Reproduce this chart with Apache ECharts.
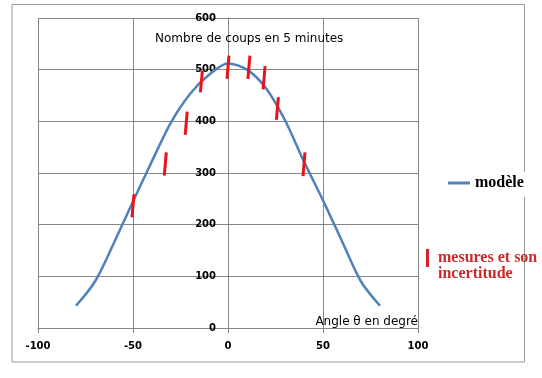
<!DOCTYPE html>
<html>
<head>
<meta charset="utf-8">
<script src="https://cdn.jsdelivr.net/npm/echarts@6/dist/echarts.min.js"></script>
<style>
html,body{margin:0;padding:0;background:#fff;}
#chart{width:542px;height:378px;}
</style>
</head>
<body>
<div id="chart"></div>
<script>
// ---- data ----
const modelAngles = [-80, -70, -60, -50, -40, -30, -20, -10, 0, 10, 20, 30, 40, 50, 60, 70, 80];
const modelValues = [43, 90, 165, 245, 323, 398, 453, 490, 512, 500, 464, 402, 322, 247, 168, 90, 43];
const measureAngles = [-50, -33, -22, -14, 0, 11, 19, 26, 40];
const measureLow  = [214, 295, 374, 456, 482, 482, 462, 403, 294];
const measureHigh = [259, 340, 419, 498, 527, 527, 507, 447, 340];
const xTickValues = [-100, -50, 0, 50, 100];
const yTickValues = [0, 100, 200, 300, 400, 500, 600];
const titleText = 'Nombre de coups en 5 minutes';
const xAxisName = 'Angle θ en degré';
const modelName = 'modèle';
const measureName = 'mesures et son\nincertitude';

const modelData = modelAngles.map((a, i) => [a, modelValues[i]]);
const measureData = measureAngles.map((a, i) => [a, measureLow[i], measureHigh[i]]);

const gridColor = '#868686';
const gridLeft = 38, gridWidth = 380;
const xMin = xTickValues[0], xMax = xTickValues[xTickValues.length - 1];
// shift the vertical axis so that it crosses the horizontal axis at x = 0
const yAxisShift = -gridWidth * (0 - xMin) / (xMax - xMin);

const chart = echarts.init(document.getElementById('chart'), null, {renderer: 'canvas'});
chart.setOption({
  backgroundColor: '#ffffff',
  animation: false,
  title: {
    text: titleText,
    left: 155, top: 33, padding: 0,
    textStyle: {fontFamily: 'DejaVu Sans', fontSize: 12, fontWeight: 'normal', color: '#000'}
  },
  graphic: [{
    type: 'rect', z: 0, silent: true,
    shape: {x: 12, y: 4.5, width: 512.5, height: 357.5},
    style: {fill: 'none', stroke: '#9a9a9a', lineWidth: 1}
  }],
  legend: [{
    data: [modelName],
    left: 443, top: 172,
    padding: [3, 6, 6, 5],
    backgroundColor: '#ffffff',
    itemWidth: 22, itemHeight: 14,
    icon: 'path://M0,6h22v3h-22z',
    textStyle: {fontFamily: 'Liberation Serif', fontWeight: 'bold', fontSize: 16, color: '#000'}
  }, {
    data: [{
      name: measureName,
      icon: 'path://M0,0h3v18h-3zM0,34h3v0h-3z',
      itemStyle: {color: '#d4242a'}
    }],
    left: 426, top: 249,
    padding: 0,
    itemWidth: 3, itemHeight: 34,
    textStyle: {fontFamily: 'Liberation Serif', fontWeight: 'bold', fontSize: 16, lineHeight: 16, color: '#cc2a2a', padding: [0, 0, 0, 4]}
  }],
  grid: {left: gridLeft, top: 18, width: gridWidth, height: 310, containLabel: false},
  xAxis: {
    type: 'value', min: xMin, max: xMax, interval: 50,
    name: xAxisName, nameLocation: 'end', nameGap: 0,
    nameTextStyle: {fontFamily: 'DejaVu Sans', fontSize: 12, color: '#000', align: 'right', verticalAlign: 'bottom'},
    axisLine: {show: true, onZero: false, lineStyle: {color: gridColor, width: 1}},
    axisTick: {show: true, length: 5, lineStyle: {color: gridColor}},
    axisLabel: {margin: 13, fontFamily: 'DejaVu Sans', fontWeight: 'bold', fontSize: 10, color: '#000'},
    splitLine: {show: true, lineStyle: {color: gridColor, width: 1}}
  },
  yAxis: {
    type: 'value', min: yTickValues[0], max: yTickValues[yTickValues.length - 1], interval: 100,
    position: 'left', offset: yAxisShift,
    axisLine: {show: true, onZero: false, lineStyle: {color: gridColor, width: 1}},
    axisTick: {show: false},
    axisLabel: {margin: 12, fontFamily: 'DejaVu Sans', fontWeight: 'bold', fontSize: 10, color: '#000'},
    splitLine: {show: true, lineStyle: {color: gridColor, width: 1}}
  },
  series: [{
    name: modelName, type: 'line', data: modelData,
    smooth: 0.3, symbol: 'none', z: 3,
    lineStyle: {color: '#4f81bd', width: 2.5},
    itemStyle: {color: '#4f81bd'}
  }, {
    name: measureName, type: 'custom', data: measureData, z: 4,
    encode: {x: 0, y: [1, 2]},
    itemStyle: {color: '#e8141c'},
    renderItem: function (params, api) {
      const top = api.coord([api.value(0), api.value(2)]);
      const bot = api.coord([api.value(0), api.value(1)]);
      return {
        type: 'line',
        shape: {x1: top[0] + 1, y1: top[1], x2: bot[0] - 1, y2: bot[1]},
        style: {stroke: '#e8141c', lineWidth: 3}
      };
    }
  }]
});
</script>
</body>
</html>
